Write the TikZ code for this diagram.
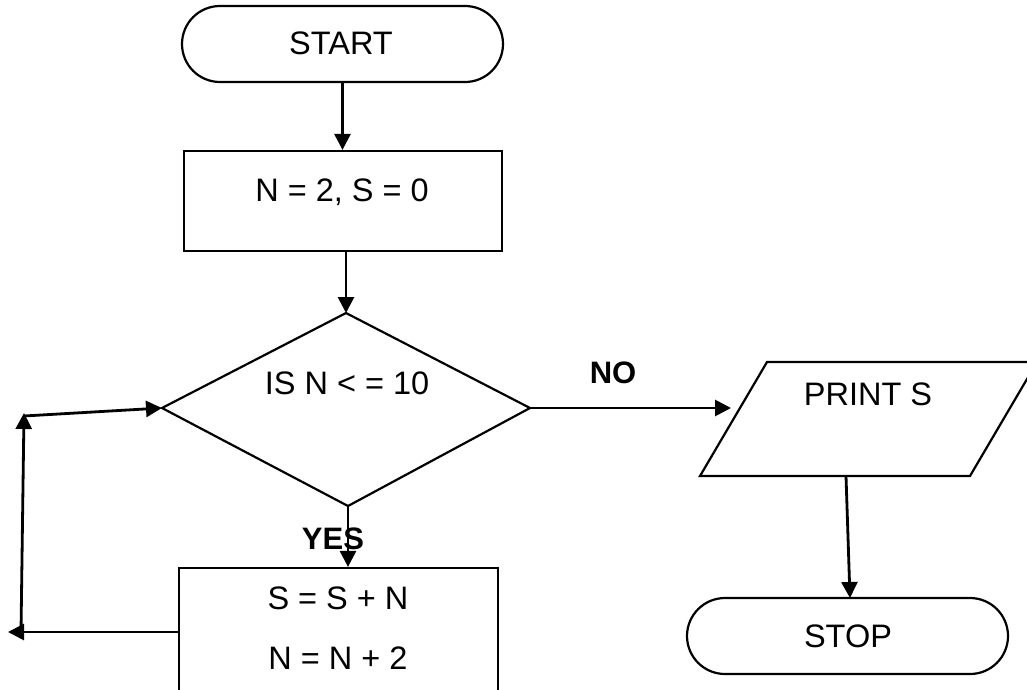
\documentclass[tikz,border=0pt]{standalone}
\usepackage{fontspec}
\setmainfont{Liberation Sans}
\usetikzlibrary{arrows.meta}
\tikzset{
  shapeline/.style={draw=black, line width=2.2pt},
  term/.style={shapeline, rectangle, rounded corners=38pt, minimum width=321pt, minimum height=76pt, inner sep=0pt},
  procbox/.style={shapeline, rectangle, inner sep=0pt},
  txt/.style={font=\fontsize{32.5}{38}\selectfont, inner sep=0pt, anchor=center},
  btxt/.style={font=\fontsize{31}{38}\selectfont\bfseries, inner sep=0pt, anchor=center},
  flow/.style={draw=black, line width=2.8pt, -{Triangle[length=16pt,width=16pt]}},
}
\begin{document}
\begin{tikzpicture}[x=1pt,y=-1pt]
\useasboundingbox (0,0) rectangle (1027,690);
\clip (0,0) rectangle (1027,690);
% START
\node[term] (start) at (342.5,44) {};
\node[txt] (starttxt) at (341,43) {START};
% box 1
\node[procbox, minimum width=318pt, minimum height=100pt] (box1) at (343,201) {};
\node[txt] (box1txt) at (342,192) {N = 2, S = 0};
% decision
\coordinate (dT) at (346,313);
\coordinate (dL) at (162,408);
\coordinate (dR) at (530,408);
\coordinate (dB) at (348,506);
\draw[shapeline, line join=miter] (dT) -- (dR) -- (dB) -- (dL) -- cycle;
\node[txt] (dtxt) at (347,383) {IS N < = 10};
% print
\coordinate (pTL) at (767,362);
\coordinate (pTR) at (1037,362);
\coordinate (pBR) at (970,476);
\coordinate (pBL) at (700,476);
\draw[shapeline, line join=miter] (pTL) -- (pTR) -- (pBR) -- (pBL) -- cycle;
\node[txt] (ptxt) at (868,394) {PRINT S};
% stop
\node[term] (stop) at (847.5,636) {};
\node[txt] (stoptxt) at (848,636) {STOP};
% box 2
\node[procbox, minimum width=319pt, minimum height=132pt] (box2) at (338.5,634) {};
\node[txt] (b2a) at (338,598) {S = S + N};
\node[txt] (b2b) at (338,658) {N = N + 2};
% labels
\node[btxt] (no) at (613,373) {NO};
\node[btxt] (yes) at (333,539) {YES};
% connectors
\coordinate (noEnd) at (731,408);
\coordinate (pB) at (846,476);
\coordinate (stopTop) at (850,598);
\coordinate (lb) at (8,632);
\coordinate (lvb) at (21,632);
\coordinate (lvt) at (24,413);
\coordinate (lht) at (24,416);
\draw[flow] (start.south) -- (box1.north -| start.south);
\draw[flow] (box1.south -| dT) -- (dT);
\draw[flow] (dR) -- (noEnd);
\draw[flow] (pB) -- (stopTop);
\draw[flow] (dB) -- (box2.north -| dB);
\draw[flow] (box2.west |- lb) -- (lb);
\draw[flow] (lvb) -- (lvt);
\draw[flow] (lht) -- (dL);
\end{tikzpicture}
\end{document}
